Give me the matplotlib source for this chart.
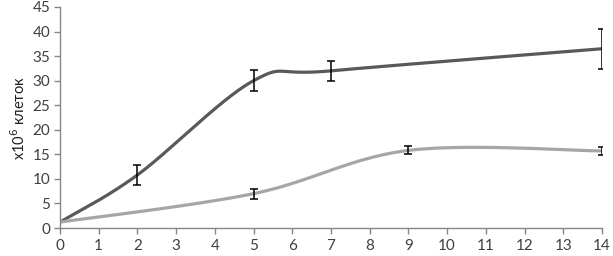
import numpy as np
import matplotlib.pyplot as plt

# данные
x_dark = [0, 2, 5, 7, 14]
y_dark = [1.2, 10.8, 30.0, 32.0, 36.5]
err_dark = [0.0, 2.0, 2.2, 2.1, 4.1]

x_light = [0, 5, 9, 14]
y_light = [1.2, 7.0, 15.8, 15.7]
err_light = [0.0, 1.0, 0.8, 0.8]

x_ticks = list(range(0, 15))
y_ticks = list(range(0, 50, 5))


def smooth(xs, ys, n=40):
    # сглаживание как в Excel (Catmull-Rom / Bezier)
    p = np.column_stack([xs, ys]).astype(float)
    p_ext = np.vstack([p[0], p, p[-1]])
    out = []
    t = np.linspace(0, 1, n)[:, None]
    for i in range(1, len(p_ext) - 2):
        p0, p1, p2, p3 = p_ext[i - 1], p_ext[i], p_ext[i + 1], p_ext[i + 2]
        c1 = p1 + (p2 - p0) / 6
        c2 = p2 - (p3 - p1) / 6
        seg = ((1 - t) ** 3) * p1 + 3 * ((1 - t) ** 2) * t * c1 \
            + 3 * (1 - t) * t ** 2 * c2 + t ** 3 * p2
        out.append(seg)
    out = np.vstack(out)
    return out[:, 0], out[:, 1]


plt.rcParams['font.family'] = ['Lato', 'DejaVu Sans']

fig = plt.figure(figsize=(6.13, 2.56), dpi=100)
ax = fig.add_axes([60 / 613, 28 / 256, 542 / 613, 221 / 256])

sx, sy = smooth(x_dark, y_dark)
ax.plot(sx, sy, color='#595959', linewidth=2.3, solid_capstyle='round', zorder=2)
sx, sy = smooth(x_light, y_light)
ax.plot(sx, sy, color='#a6a6a6', linewidth=2.3, solid_capstyle='round', zorder=2)

ax.errorbar(x_dark[1:], y_dark[1:], yerr=err_dark[1:], fmt='none',
            ecolor='black', elinewidth=1.1, capsize=3, capthick=1.1, zorder=3)
ax.errorbar(x_light[1:], y_light[1:], yerr=err_light[1:], fmt='none',
            ecolor='black', elinewidth=1.1, capsize=3, capthick=1.1, zorder=3)

ax.set_xlim(0, 14)
ax.set_ylim(0, 45)
ax.set_xticks(x_ticks)
ax.set_yticks(y_ticks)

for s in ['top', 'right']:
    ax.spines[s].set_visible(False)
for s in ['left', 'bottom']:
    ax.spines[s].set_color('#868686')
    ax.spines[s].set_linewidth(1.0)

ax.tick_params(axis='both', colors='#868686', length=4, width=1.0,
               labelsize=11, labelcolor='#404040')
ax.tick_params(axis='x', pad=4)
ax.tick_params(axis='y', pad=3)

ax.set_ylabel('x10$^{6}$ клеток', fontsize=10.5, color='#202020', labelpad=3)

fig.savefig('out.png', dpi=100)
